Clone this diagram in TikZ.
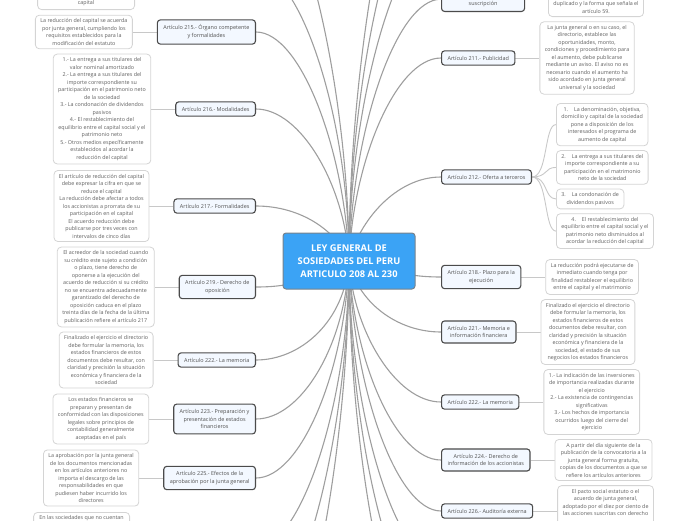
\documentclass[tikz,border=0pt]{standalone}
\usepackage{fontspec}
\setmainfont{Open Sans}
\usetikzlibrary{positioning}
\pgfdeclarelayer{bg}
\pgfsetlayers{bg,main}

\definecolor{rootblue}{RGB}{59,163,245}
\definecolor{rootedge}{RGB}{120,130,140}
\definecolor{topicfill}{RGB}{243,248,255}
\definecolor{topicedge}{RGB}{75,75,75}
\definecolor{topictext}{RGB}{80,80,80}
\definecolor{leafedge}{RGB}{212,212,212}
\definecolor{leaftext}{RGB}{95,95,95}
\definecolor{trunkgrey}{RGB}{158,158,158}
\definecolor{twiggrey}{RGB}{200,200,200}

\begin{document}
\begin{tikzpicture}[x=1pt,y=-1pt,line join=round,line cap=round,
  root/.style={draw=rootedge,fill=rootblue,rounded corners=3pt,line width=1pt,
    text=white,font=\fontsize{9.3}{13.3}\selectfont\bfseries,align=center,
    minimum width=132pt,minimum height=56pt},
  topic/.style={draw=topicedge,fill=topicfill,rounded corners=3pt,line width=1.1pt,
    text=topictext,font=\fontsize{5.45}{7.8}\selectfont,align=center,
    inner xsep=6pt,inner ysep=5pt},
  leaf/.style={draw=leafedge,fill=white,rounded corners=4pt,line width=0.8pt,
    text=leaftext,font=\fontsize{5.35}{7.5}\selectfont,align=center,
    inner xsep=5pt,inner ysep=3.5pt},
  trunk/.style={draw=trunkgrey,line width=1.1pt},
  twig/.style={draw=twiggrey,line width=0.9pt}]

  \useasboundingbox (0,0) rectangle (696,520);
  \clip (0,0) rectangle (696,520);

  % ---- root ----
  \node[root] (root) at (349,261) {LEY GENERAL DE\\SOSIEDADES DEL PERU\\ARTICULO 208 AL 230};

  % ---- left topics ----
  \node[topic,anchor=east] (t215) at (256,32) {Artículo 215.- Órgano competente\\y formalidades};
  \node[topic,anchor=east] (t216) at (256,109) {Artículo 216.- Modalidades};
  \node[topic,anchor=east] (t217) at (256,206) {Artículo 217.- Formalidades};
  \node[topic,anchor=east] (t219) at (256,287) {Artículo 219.- Derecho de\\oposición};
  \node[topic,anchor=east] (t222l) at (256,360) {Artículo 222.- La memoria};
  \node[topic,anchor=east] (t223) at (256,419) {Artículo 223.- Preparación y\\presentación de estados\\financieros};
  \node[topic,anchor=east] (t225) at (256,478) {Artículo 225.- Efectos de la\\aprobación por la junta general};

  % ---- left leaves ----
  \node[leaf,anchor=south east,minimum width=97pt] (s208) at (135,10) {\strut\\\strut\\capital};
  \node[leaf,left=24pt of t215] (s215) {La reducción del capital se acuerda\\por junta general, cumpliendo los\\requisitos establecidos para la\\modificación del estatuto};
  \node[leaf,left=24pt of t216] (s216) {1.- La entrega a sus titulares del\\valor nominal amortizado\\2.- La entrega a sus titulares del\\importe correspondiente su\\participación en el patrimonio neto\\de la sociedad\\3.- La condonación de dividendos\\pasivos\\4.- El restablecimiento del\\equilibrio entre el capital social y el\\patrimonio neto\\5.- Otros medios específicamente\\establecidos al acordar la\\reducción del capital};
  \node[leaf,left=24pt of t217] (s217) {El artículo de reducción del capital\\debe expresar la cifra en que se\\reduce el capital\\La reducción debe afectar a todos\\los accionistas a prorrata de su\\participación en el capital\\El acuerdo reducción debe\\publicarse por tres veces con\\intervalos de cinco días};
  \node[leaf,left=24pt of t219] (s219) {El acreedor de la sociedad cuando\\su crédito este sujeto a condición\\o plazo, tiene derecho de\\oponerse a la ejecución del\\acuerdo de reducción si su crédito\\no se encuentra adecuadamente\\garantizado del derecho de\\oposición caduca en el plazo\\treinta días de la fecha de la última\\publicación refiere el artículo 217};
  \node[leaf,left=24pt of t222l] (s222l) {Finalizado el ejercicio el directorio\\debe formular la memoria, los\\estados financieros de estos\\documentos debe resultar, con\\claridad y precisión la situación\\económica y financiera de la\\sociedad};
  \node[leaf,left=24pt of t223] (s223) {Los estados financieros se\\preparan y presentan de\\conformidad con las disposiciones\\legales sobre principios de\\contabilidad generalmente\\aceptadas en el país};
  \node[leaf,left=24pt of t225] (s225) {La aprobación por la junta general\\de los documentos mencionadas\\en los artículos anteriores no\\importa el descargo de las\\responsabilidades en que\\pudiesen haber incurrido los\\directores};
  \node[leaf,anchor=north east,minimum width=96pt] (s227) at (130,512) {En las sociedades que no cuentan\\\strut\\\strut};

  % ---- right topics ----
  \node[topic,anchor=south west,minimum width=83pt] (t210) at (441,12) {\strut\\suscripción};
  \node[topic,anchor=west] (t211) at (441,58) {Artículo 211.- Publicidad};
  \node[topic,anchor=west] (t212) at (441,177) {Artículo 212.- Oferta a terceros};
  \node[topic,anchor=west] (t218) at (441,277) {Artículo 218.- Plazo para la\\ejecución};
  \node[topic,anchor=west] (t221) at (441,332) {Artículo 221.- Memoria e\\información financiera};
  \node[topic,anchor=west] (t222r) at (441,402) {Artículo 222.- La memoria};
  \node[topic,anchor=west] (t224) at (441,460) {Artículo 224.- Derecho de\\información de los accionistas};
  \node[topic,anchor=west] (t226) at (441,511) {Artículo 226.- Auditoría externa};

  % ---- right leaves ----
  \node[leaf,anchor=south west] (s210) at (548,17) {\strut\\\strut\\duplicado y la forma que señala el\\artículo 59.};
  \node[leaf,right=24pt of t211] (s211) {La junta general o en su caso, el\\directorio, establece las\\oportunidades, monto,\\condiciones y procedimiento para\\el aumento, debe publicarse\\mediante un aviso. El aviso no es\\necesario cuando el aumento ha\\sido acordado en junta general\\universal y la sociedad};
  \node[leaf,anchor=north west] (o1) at ([xshift=24pt,yshift=74pt]t212.east) {1.\hspace{6pt}La denominación, objetiva,\\domicilio y capital de la sociedad\\pone a disposición de los\\interesados el programa de\\aumento de capital};
  \node[leaf,below right=4pt and 0pt of o1.south west] (o2) {2.\hspace{6pt}La entrega a sus titulares del\\importe correspondiente a su\\participación en el matrimonio\\neto de la sociedad};
  \node[leaf,below right=4pt and 0pt of o2.south west] (o3) {3.\hspace{6pt}La condonación de\\dividendos pasivos};
  \node[leaf,below right=4pt and 0pt of o3.south west] (o4) {4.\hspace{6pt}El restablecimiento del\\equilibrio entre el capital social y el\\patrimonio neto disminuidos al\\acordar la reducción del capital};
  \node[leaf,right=24pt of t218] (s218) {La reducción podrá ejecutarse de\\inmediato cuando tenga por\\finalidad restablecer el equilibrio\\entre el capital y el matrimonio};
  \node[leaf,right=24pt of t221] (s221) {Finalizado el ejercicio el directorio\\debe formular la memoria, los\\estados financieros de estos\\documentos debe resultar, con\\claridad y precisión la situación\\económica y financiera de la\\sociedad, el estado de sus\\negocios los estados financieros};
  \node[leaf,right=24pt of t222r] (s222r) {1.- La indicación de las inversiones\\de importancia realizadas durante\\el ejercicio\\2.- La existencia de contingencias\\significativas\\3.- Los hechos de importancia\\ocurridos luego del cierre del\\ejercicio};
  \node[leaf,right=24pt of t224] (s224) {A partir del día siguiente de la\\publicación de la convocatoria a la\\junta general forma gratuita,\\copias de los documentos a que se\\refiere los artículos anteriores};
  \node[leaf,right=24pt of t226] (s226) {El pacto social estatuto o el\\acuerdo de junta general,\\adoptado por el diez por ciento de\\las acciones suscritas con derecho\\\strut\\\strut};

  % ---- topics off the page ----
  \coordinate (offL1) at (256,-30);
  \coordinate (offL2) at (256,-120);
  \coordinate (offL3) at (256,548);
  \coordinate (offL4) at (256,620);
  \coordinate (offL5) at (256,700);
  \coordinate (offR1) at (441,-65);
  \coordinate (offR2) at (441,-130);
  \coordinate (offR3) at (441,-200);
  \coordinate (offR4) at (441,565);
  \coordinate (offR5) at (441,625);
  \coordinate (offR6) at (441,690);

  \begin{pgfonlayer}{bg}
    \clip (0,0) rectangle (696,520);
    % root to topics
    \foreach \t/\a/\b in {t215/-4/-110,t216/-4/-75,t217/-12/-30,t219/-40/15,
                          t222l/-4/60,t223/-4/85,t225/-4/110}
      \draw[trunk] (root.center) .. controls +(\a,\b) and +(45,0) .. (\t.east);
    \foreach \t/\a/\b in {t210/3/-130,t211/4/-100,t212/10/-40,t218/40/5,
                          t221/8/40,t222r/4/70,t224/4/100,t226/4/125}
      \draw[trunk] (root.center) .. controls +(\a,\b) and +(-45,0) .. (\t.west);
    \foreach \t/\b in {offL1/-140,offL2/-170,offL3/140,offL4/170,offL5/200}
      \draw[trunk] (root.center) .. controls +(0,\b) and +(45,0) .. (\t);
    \foreach \t/\b in {offR1/-150,offR2/-180,offR3/-210,offR4/150,offR5/180,offR6/210}
      \draw[trunk] (root.center) .. controls +(0,\b) and +(-45,0) .. (\t);
    % topics to leaves
    \foreach \t in {215,216,217,219,222l,223,225}
      \draw[twig] (t\t.west) -- (s\t.east);
    \foreach \t in {210,211,218,221,222r,224,226}
      \draw[twig] (t\t.east) -- (s\t.west);
    \foreach \i in {1,...,4}
      \draw[twig] (t212.east) .. controls +(16,0) and +(-12,0) .. (o\i.west);
  \end{pgfonlayer}
\end{tikzpicture}
\end{document}
